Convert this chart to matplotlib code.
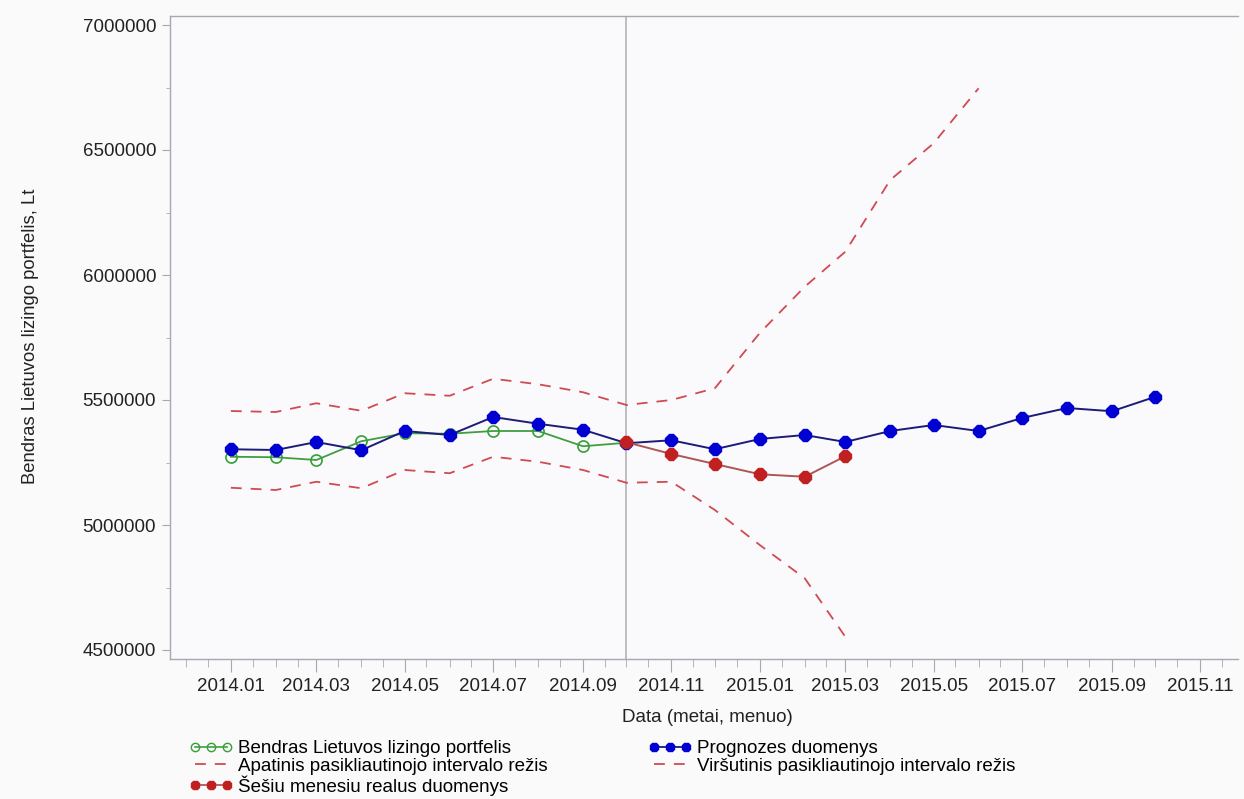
import matplotlib
matplotlib.use("Agg")
import matplotlib.pyplot as plt
import matplotlib.dates as mdates
from matplotlib.lines import Line2D
import pandas as pd

plt.rcParams['font.family'] = ['Liberation Sans', 'DejaVu Sans']

# Monthly series (Lt)
months_actual = ['2014-01', '2014-02', '2014-03', '2014-04', '2014-05', '2014-06',
                 '2014-07', '2014-08', '2014-09', '2014-10']
actual = [5273000, 5271000, 5260000, 5335000, 5367000, 5365000,
          5376000, 5376000, 5315000, 5329000]

months_forecast = ['2014-01', '2014-02', '2014-03', '2014-04', '2014-05', '2014-06',
                   '2014-07', '2014-08', '2014-09', '2014-10', '2014-11', '2014-12',
                   '2015-01', '2015-02', '2015-03', '2015-04', '2015-05', '2015-06',
                   '2015-07', '2015-08', '2015-09', '2015-10']
forecast = [5303000, 5300000, 5332000, 5299000, 5376000, 5360000,
            5432000, 5405000, 5381000, 5327000, 5339000, 5303000,
            5344000, 5360000, 5332000, 5376000, 5400000, 5376000,
            5428000, 5468000, 5455000, 5513000]

months_real6 = ['2014-10', '2014-11', '2014-12', '2015-01', '2015-02', '2015-03']
real6 = [5331000, 5284000, 5244000, 5203000, 5193000, 5275000]

months_upper = months_forecast[:18]
upper = [5456000, 5452000, 5487000, 5457000, 5527000, 5517000,
         5585000, 5563000, 5531000, 5480000, 5500000, 5547000,
         5768000, 5953000, 6093000, 6380000, 6527000, 6747000]

months_lower = months_forecast[:15]
lower = [5149000, 5140000, 5173000, 5147000, 5220000, 5207000,
         5273000, 5253000, 5220000, 5169000, 5173000, 5060000,
         4920000, 4787000, 4553000]

forecast_start = '2014-10'

labels = ['Bendras Lietuvos lizingo portfelis',
          'Apatinis pasikliautinojo intervalo režis',
          'Šešiu menesiu realus duomenys',
          'Prognozes duomenys',
          'Viršutinis pasikliautinojo intervalo režis']

def to_dates(ms):
    return pd.to_datetime([m + '-01' for m in ms])

W, H = 1244, 799
fig = plt.figure(figsize=(W / 100, H / 100), dpi=100, facecolor='#fafafb')
ax = fig.add_axes([170 / W, 1 - 659 / H, (1238 - 170) / W, (659 - 16) / H])
ax.set_facecolor('#fafafc')

band_color = '#cf4a52'
dash = (0, (6, 5))
ax.plot(to_dates(months_upper), upper, color=band_color, lw=1.3, linestyle=dash, zorder=2)
ax.plot(to_dates(months_lower), lower, color=band_color, lw=1.3, linestyle=dash, zorder=2)

ax.axvline(pd.Timestamp(forecast_start + '-01'), color='#b4b4b8', lw=1.2, zorder=1)

ax.plot(to_dates(months_actual), actual, color='#3f9f3f', lw=1.3, marker='o',
        markersize=8, markerfacecolor='none', markeredgecolor='#35a035',
        markeredgewidth=1.2, zorder=3)
ax.plot(to_dates(months_forecast), forecast, color='#1c1c78', lw=1.4, marker='8',
        markersize=9, markerfacecolor='#0000d2', markeredgecolor='#0000d2', zorder=4)
ax.plot(to_dates(months_real6), real6, color='#b05555', lw=1.4, marker='8',
        markersize=9, markerfacecolor='#c0201f', markeredgecolor='#c0201f', zorder=5)

ax.set_ylim(4464000, 7036000)
ax.set_xlim(pd.Timestamp('2013-11-20'), pd.Timestamp('2015-11-27'))

ax.set_yticks([4500000, 5000000, 5500000, 6000000, 6500000, 7000000])
ax.set_yticks([4750000, 5250000, 5750000, 6250000, 6750000], minor=True)
ax.yaxis.set_major_formatter(matplotlib.ticker.FuncFormatter(lambda v, p: f'{int(round(v))}'))

ax.xaxis.set_major_locator(mdates.MonthLocator(bymonth=[1, 3, 5, 7, 9, 11]))
ax.xaxis.set_major_formatter(mdates.DateFormatter('%Y.%m'))
ax.xaxis.set_minor_locator(mdates.DayLocator(bymonthday=[1, 16]))

spine_color = '#a8a8ae'
for side in ['left', 'bottom', 'top']:
    ax.spines[side].set_color(spine_color)
    ax.spines[side].set_linewidth(1.0)
ax.spines['right'].set_visible(False)

ax.tick_params(axis='both', which='both', colors=spine_color, labelcolor='#222222',
               labelsize=13.5)
ax.tick_params(axis='y', which='major', length=6, pad=4)
ax.tick_params(axis='y', which='minor', length=3)
ax.tick_params(axis='x', which='major', length=9, pad=5)
ax.tick_params(axis='x', which='minor', length=6)

fig.text(31 / W, 1 - 336 / H, 'Bendras Lietuvos lizingo portfelis, Lt', rotation=90,
         ha='center', va='center', fontsize=13.3, color='#222222')
fig.text(707 / W, 1 - 718 / H, 'Data (metai, menuo)', ha='center', va='center',
         fontsize=13.5, color='#222222')

handles = [
    Line2D([], [], color='#3f9f3f', lw=1.2, marker='o', markersize=6,
           markerfacecolor='none', markeredgecolor='#35a035'),
    Line2D([], [], color=band_color, lw=1.3, linestyle=dash),
    Line2D([], [], color='#b05555', lw=1.3, marker='8', markersize=6.5,
           markerfacecolor='#c0201f', markeredgecolor='#c0201f'),
    Line2D([], [], color='#1c1c78', lw=1.3, marker='8', markersize=6.5,
           markerfacecolor='#0000d2', markeredgecolor='#0000d2'),
    Line2D([], [], color=band_color, lw=1.3, linestyle=dash),
]
fig.legend(handles, labels, ncol=2, loc='upper left',
           bbox_to_anchor=(189 / W, 1 - 740 / H), frameon=False, fontsize=13.5,
           numpoints=3, handlelength=2.3, handletextpad=0.3, labelspacing=0.02,
           columnspacing=5.4, borderpad=0, borderaxespad=0)

fig.savefig('out.png', dpi=100, facecolor=fig.get_facecolor())
